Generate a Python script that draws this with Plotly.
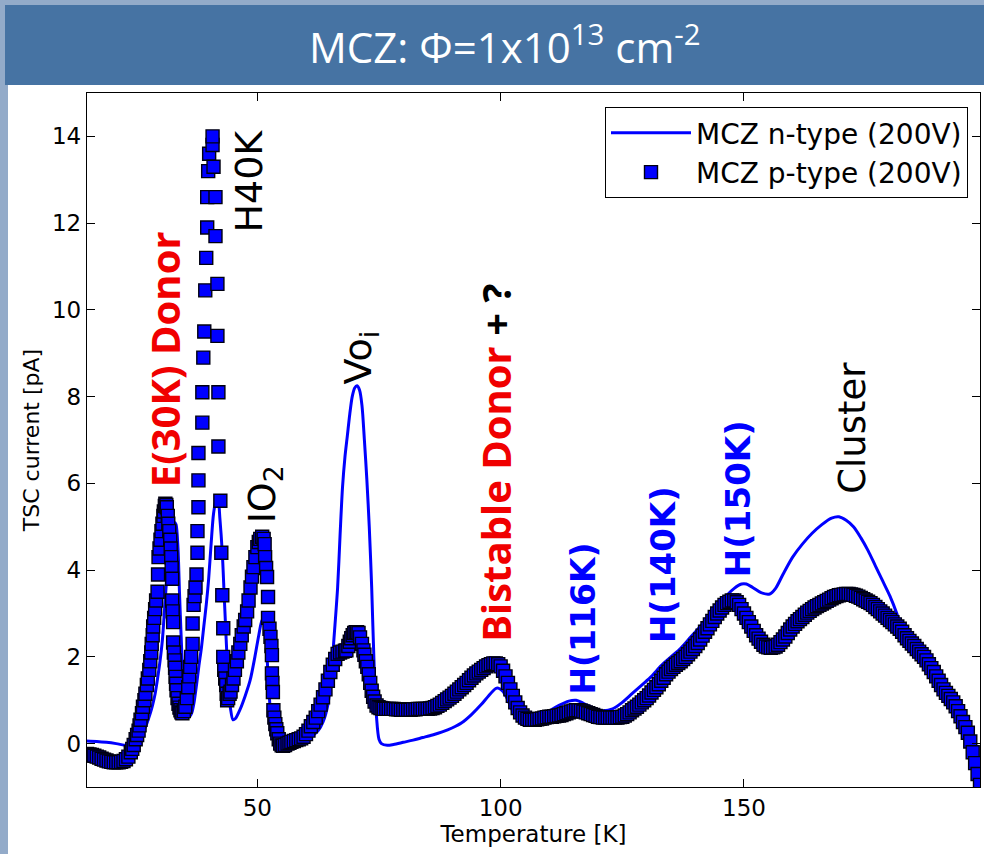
import plotly.graph_objects as go

# ---- TSC spectra, MCZ n-type and p-type (200 V), fluence 1e13 cm^-2 ----
temp_n = [15.0, 17.0, 19.0, 21.0, 23.0, 24.0, 25.0, 26.0, 27.0, 28.0, 28.5, 29.0, 29.5, 30.0,
          30.5, 31.0, 31.5, 32.0, 32.5, 33.0, 33.3, 33.7, 34.0, 34.3, 34.6, 35.0, 35.5, 36.0,
          36.5, 37.0, 37.5, 38.0, 38.5, 39.0, 39.5, 40.0, 40.5, 41.0, 41.5, 41.9, 42.3, 42.8,
          43.2, 43.6, 44.0, 44.5, 45.0, 45.5, 46.5, 47.5, 48.5, 49.5, 50.3, 51.0, 51.6, 52.0,
          52.4, 52.8, 53.3, 54.0, 56.0, 58.8, 60.0, 61.5, 62.5, 63.5, 64.5, 65.2, 65.8, 66.5,
          67.0, 67.5, 68.0, 68.5, 69.0, 69.5, 70.0, 70.5, 71.0, 71.5, 72.0, 72.5, 73.0, 73.5,
          74.0, 74.5, 75.0, 75.5, 76.7, 78.0, 80.0, 82.0, 84.0, 86.0, 88.0, 90.0, 92.0, 94.0,
          96.0, 97.5, 99.0, 99.5, 100.5, 101.5, 102.5, 103.5, 104.5, 106.0, 108.0, 110.0, 112.0,
          114.0, 115.5, 117.0, 119.0, 121.0, 123.0, 125.0, 127.0, 129.0, 131.0, 133.0, 135.0,
          137.0, 139.0, 141.0, 143.0, 145.0, 146.5, 148.0, 149.5, 150.5, 151.8, 153.5, 155.3,
          156.5, 158.0, 160.0, 162.0, 164.0, 166.0, 168.0, 169.5, 171.0, 172.5, 174.0, 175.5,
          177.0, 178.5, 180.0, 181.4, 182.5, 185.0, 187.6, 190.0, 192.9, 195.8, 197.5, 198.5]
tsc_n = [0.06, 0.05, 0.03, 0.0, -0.04, -0.04, 0.05, 0.18, 0.38, 0.7, 0.9, 1.15, 1.5, 1.9,
         2.4, 3.2, 4.0, 4.6, 4.95, 5.1, 5.05, 4.5, 3.5, 2.6, 1.8, 1.1, 0.72, 0.62,
         0.7, 0.95, 1.35, 1.8, 2.2, 2.7, 3.2, 3.8, 4.6, 5.3, 5.6, 5.65, 5.2, 4.4,
         3.4, 2.4, 1.5, 0.8, 0.55, 0.58, 0.8, 1.1, 1.45, 2.0, 2.5, 2.85, 2.9, 2.0,
         1.2, 0.6, 0.25, 0.08, 0.05, 0.08, 0.1, 0.2, 0.3, 0.5, 0.9, 1.6, 2.5, 3.6,
         4.8, 5.9, 6.6, 7.1, 7.6, 8.0, 8.2, 8.25, 8.15, 7.8, 7.0, 6.1, 5.0, 3.6,
         1.8, 0.6, 0.1, 0.0, -0.04, -0.02, 0.03, 0.08, 0.14, 0.2, 0.27, 0.36, 0.48, 0.67,
         0.9, 1.1, 1.27, 1.28, 1.2, 1.0, 0.75, 0.6, 0.54, 0.52, 0.6, 0.75, 0.88,
         0.98, 1.0, 0.93, 0.82, 0.76, 0.8, 0.95, 1.15, 1.35, 1.55, 1.8, 2.0,
         2.2, 2.45, 2.7, 2.95, 3.2, 3.42, 3.58, 3.68, 3.68, 3.6, 3.48, 3.45,
         3.58, 3.9, 4.3, 4.6, 4.85, 5.05, 5.2, 5.23, 5.15, 5.0, 4.75, 4.45,
         4.1, 3.75, 3.4, 3.0, 2.62, 2.25, 1.98, 1.5, 0.98, 0.35, -0.45, -0.97]

temp_p = [15.0, 15.5, 16.0, 16.5, 17.0, 17.5, 18.0, 18.5, 19.0, 19.5,
          20.0, 20.5, 21.0, 21.5, 22.0, 22.5, 23.0, 23.5, 24.0, 24.3,
          24.6, 25.0, 25.3, 25.6, 25.8, 26.0, 26.3, 26.5, 26.8, 27.0,
          27.3, 27.5, 27.8, 28.0, 28.2, 28.3, 28.5, 28.6, 28.8, 29.0,
          29.2, 29.5, 29.6, 29.7, 29.9, 30.1, 30.3, 30.5, 30.7, 30.8,
          31.0, 31.1, 31.3, 31.4, 31.6, 31.7, 31.9, 32.1, 32.2, 32.3,
          32.4, 32.5, 32.5, 32.6, 32.7, 32.7, 32.85, 33.0, 33.1, 33.2,
          33.3, 33.4, 33.6, 33.8, 34.0, 34.2, 34.4, 34.6, 34.9, 35.2,
          35.5, 35.8, 36.0, 36.2, 36.4, 36.7, 36.7, 36.9, 37.1, 37.3,
          37.5, 37.7, 37.7, 37.9, 37.9, 37.9, 38.7, 38.7, 38.9, 39.1,
          39.3, 39.5, 39.7, 39.7, 39.9, 40.1, 40.8, 40.8, 41.0, 41.4,
          41.4, 41.8, 41.8, 42.0, 42.0, 42.4, 42.6, 42.8, 43.0, 43.0,
          43.2, 43.4, 43.6, 43.7, 43.8, 44.0, 44.3, 44.5, 44.8, 45.1,
          45.4, 45.8, 46.1, 46.5, 46.8, 47.2, 47.5, 47.9, 48.2, 48.6,
          48.9, 49.2, 49.6, 50.0, 50.3, 50.6, 51.0, 51.3, 51.5, 51.6,
          51.8, 52.0, 52.2, 52.2, 52.5, 52.7, 52.9, 53.0, 53.0, 53.1,
          53.2, 53.3, 53.5, 53.7, 53.9, 54.1, 54.4, 54.7, 55.0, 55.3,
          55.7, 56.2, 56.6, 57.0, 57.5, 58.0, 58.5, 59.0, 59.5, 60.0,
          60.5, 61.0, 61.5, 62.0, 62.5, 63.0, 63.5, 64.0, 64.5, 65.0,
          65.5, 66.0, 66.5, 67.0, 67.5, 68.0, 68.3, 68.7, 69.0, 69.3,
          69.6, 69.9, 70.2, 70.5, 70.8, 71.1, 71.5, 71.8, 72.0, 72.3,
          72.6, 72.9, 73.2, 73.5, 73.8, 74.1, 74.5, 74.9, 75.3, 75.7,
          76.0, 76.5, 77.0, 77.5, 78.0, 78.5, 79.0, 79.5, 80.0, 80.5,
          81.0, 81.5, 82.0, 82.5, 83.0, 83.5, 84.0, 84.5, 85.0, 85.5,
          86.0, 86.5, 87.0, 87.5, 88.0, 88.5, 89.0, 89.5, 90.0, 90.5,
          91.0, 91.5, 92.0, 92.5, 93.0, 93.5, 94.0, 94.5, 95.0, 95.5,
          96.0, 96.5, 97.0, 97.5, 98.0, 98.5, 99.0, 99.5, 100.0, 100.5,
          101.0, 101.5, 102.0, 102.5, 103.0, 103.5, 104.0, 104.5, 105.0, 105.5,
          106.0, 106.5, 107.0, 107.5, 108.0, 108.5, 109.0, 109.5, 110.0, 110.5,
          111.0, 111.5, 112.0, 112.5, 113.0, 113.5, 114.0, 114.5, 115.0, 115.5,
          116.0, 116.5, 117.0, 117.5, 118.0, 118.5, 119.0, 119.5, 120.0, 120.5,
          121.0, 121.5, 122.0, 122.5, 123.0, 123.5, 124.0, 124.5, 125.0, 125.5,
          126.0, 126.5, 127.0, 127.5, 128.0, 128.5, 129.0, 129.5, 130.0, 130.5,
          131.0, 131.5, 132.0, 132.5, 133.0, 133.5, 134.0, 134.5, 135.0, 135.5,
          136.0, 136.5, 137.0, 137.5, 138.0, 138.5, 139.0, 139.5, 140.0, 140.5,
          141.0, 141.5, 142.0, 142.5, 143.0, 143.5, 144.0, 144.5, 145.0, 145.5,
          146.0, 146.5, 147.0, 147.5, 148.0, 148.5, 149.0, 149.5, 150.0, 150.5,
          151.0, 151.5, 152.0, 152.5, 153.0, 153.5, 154.0, 154.5, 155.0, 155.5,
          156.0, 156.5, 157.0, 157.5, 158.0, 158.5, 159.0, 159.5, 160.0, 160.5,
          161.0, 161.5, 162.0, 162.5, 163.0, 163.5, 164.0, 164.5, 165.0, 165.5,
          166.0, 166.5, 167.0, 167.5, 168.0, 168.5, 169.0, 169.5, 170.0, 170.5,
          171.0, 171.5, 172.0, 172.5, 173.0, 173.5, 174.0, 174.5, 175.0, 175.5,
          176.0, 176.5, 177.0, 177.5, 178.0, 178.5, 179.0, 179.5, 180.0, 180.5,
          181.0, 181.5, 182.0, 182.5, 183.0, 183.5, 184.0, 184.5, 185.0, 185.5,
          186.0, 186.5, 187.0, 187.5, 188.0, 188.5, 189.0, 189.5, 190.0, 190.5,
          191.0, 191.5, 192.0, 192.5, 193.0, 193.5, 194.0, 194.5, 195.0, 195.5,
          196.0, 196.5, 197.0, 197.5, 198.0, 198.5]
tsc_p = [-0.24, -0.25, -0.26, -0.28, -0.30, -0.32, -0.35, -0.37, -0.39, -0.41,
         -0.42, -0.43, -0.43, -0.43, -0.42, -0.40, -0.36, -0.30, -0.20, -0.12,
         -0.03, 0.10, 0.20, 0.30, 0.42, 0.55, 0.70, 0.85, 1.00, 1.15,
         1.35, 1.50, 1.70, 1.90, 2.10, 2.30, 2.50, 2.70, 2.90, 3.10,
         3.30, 3.50, 3.90, 4.30, 4.50, 4.70, 4.90, 5.07, 5.25, 5.35,
         5.48, 5.53, 5.50, 5.45, 5.25, 5.07, 4.90, 4.70, 4.50, 4.30,
         4.05, 3.80, 3.30, 3.05, 2.80, 2.33, 2.10, 1.92, 1.75, 1.54,
         1.38, 1.23, 1.05, 0.92, 0.83, 0.77, 0.72, 0.70, 0.75, 0.85,
         1.05, 1.30, 1.55, 1.77, 2.00, 2.30, 2.77, 3.20, 3.40, 3.60,
         3.90, 4.40, 4.90, 5.45, 6.07, 6.70, 7.40, 8.10, 8.90, 9.50,
         10.45, 11.20, 11.90, 12.60, 13.20, 13.60, 13.80, 14.00, 13.30, 12.60,
         11.70, 10.60, 9.40, 8.10, 6.85, 5.60, 4.40, 3.42, 2.66, 2.00,
         1.70, 1.50, 1.35, 1.15, 1.00, 1.05, 1.15, 1.20, 1.35, 1.50,
         1.70, 1.90, 2.10, 2.30, 2.50, 2.70, 2.85, 3.05, 3.30, 3.60,
         3.85, 4.07, 4.30, 4.53, 4.65, 4.72, 4.77, 4.72, 4.60, 4.30,
         4.05, 3.84, 3.38, 2.90, 2.65, 2.46, 2.25, 2.04, 1.62, 1.40,
         1.19, 0.77, 0.60, 0.45, 0.33, 0.24, 0.10, 0.00, -0.04, -0.05,
         -0.03, 0.00, 0.02, 0.04, 0.06, 0.08, 0.10, 0.12, 0.16, 0.22,
         0.30, 0.40, 0.50, 0.60, 0.75, 0.90, 1.07, 1.25, 1.45, 1.65,
         1.82, 1.95, 2.07, 2.10, 2.12, 2.14, 2.15, 2.25, 2.35, 2.43,
         2.50, 2.55, 2.57, 2.57, 2.55, 2.45, 2.30, 2.15, 2.05, 1.90,
         1.77, 1.60, 1.40, 1.22, 1.08, 0.97, 0.88, 0.84, 0.82, 0.81,
         0.80, 0.80, 0.80, 0.80, 0.80, 0.79, 0.79, 0.78, 0.78, 0.78,
         0.78, 0.78, 0.79, 0.79, 0.80, 0.80, 0.80, 0.80, 0.80, 0.81,
         0.82, 0.84, 0.87, 0.90, 0.94, 0.98, 1.02, 1.06, 1.10, 1.15,
         1.20, 1.25, 1.30, 1.35, 1.40, 1.46, 1.52, 1.57, 1.62, 1.66,
         1.70, 1.74, 1.78, 1.81, 1.83, 1.85, 1.85, 1.83, 1.78, 1.68,
         1.55, 1.40, 1.25, 1.10, 0.95, 0.82, 0.72, 0.65, 0.60, 0.57,
         0.55, 0.55, 0.55, 0.56, 0.57, 0.58, 0.60, 0.61, 0.62, 0.62,
         0.63, 0.64, 0.65, 0.66, 0.68, 0.70, 0.72, 0.74, 0.76, 0.77,
         0.77, 0.76, 0.74, 0.72, 0.70, 0.68, 0.66, 0.64, 0.62, 0.61,
         0.60, 0.60, 0.60, 0.60, 0.60, 0.60, 0.60, 0.61, 0.62, 0.65,
         0.68, 0.72, 0.77, 0.81, 0.85, 0.90, 0.95, 1.00, 1.05, 1.11,
         1.18, 1.24, 1.30, 1.37, 1.45, 1.52, 1.60, 1.66, 1.72, 1.77,
         1.82, 1.86, 1.90, 1.95, 2.00, 2.06, 2.12, 2.18, 2.25, 2.32,
         2.40, 2.49, 2.58, 2.66, 2.75, 2.83, 2.92, 3.00, 3.07, 3.14,
         3.20, 3.24, 3.27, 3.30, 3.30, 3.26, 3.20, 3.10, 3.00, 2.90,
         2.80, 2.70, 2.60, 2.50, 2.42, 2.35, 2.28, 2.24, 2.22, 2.21,
         2.22, 2.24, 2.28, 2.34, 2.40, 2.47, 2.55, 2.63, 2.70, 2.76,
         2.82, 2.87, 2.92, 2.97, 3.02, 3.06, 3.10, 3.14, 3.17, 3.20,
         3.23, 3.26, 3.29, 3.32, 3.35, 3.38, 3.40, 3.42, 3.43, 3.44,
         3.45, 3.45, 3.44, 3.43, 3.41, 3.39, 3.36, 3.33, 3.30, 3.27,
         3.24, 3.20, 3.15, 3.10, 3.05, 3.00, 2.95, 2.90, 2.85, 2.80,
         2.75, 2.70, 2.65, 2.58, 2.50, 2.43, 2.37, 2.31, 2.25, 2.18,
         2.12, 2.06, 2.00, 1.92, 1.83, 1.74, 1.65, 1.55, 1.45, 1.35,
         1.25, 1.17, 1.10, 1.03, 0.95, 0.86, 0.75, 0.63, 0.50, 0.38,
         0.25, 0.05, -0.20, -0.45, -0.70, -0.95]
assert len(temp_p) == len(tsc_p) and len(temp_n) == len(tsc_n)

x_ticks = [50, 100, 150]
y_ticks = [0, 2, 4, 6, 8, 10, 12, 14]

# plot-area geometry in pixels (figure is 984 x 854)
W, H = 984, 854
L, R, T, B = 87, 4, 93, 67
pw, ph = W - L - R, H - T - B


def px(xp):
    return (xp - L) / pw


def py(yp):
    return (H - B - yp) / ph


BLUE = "#0000ff"
RED = "#f00000"
TICKFONT = dict(family="DejaVu Sans", size=23, color="black")

fig = go.Figure()
fig.add_trace(go.Scatter(
    x=temp_n, y=tsc_n, mode="lines", name="MCZ n-type (200V)",
    line=dict(color=BLUE, width=3, shape="spline", smoothing=0.8),
))
fig.add_trace(go.Scatter(
    x=temp_p, y=tsc_p, mode="markers", name="MCZ p-type (200V)",
    marker=dict(symbol="square", size=13, color=BLUE, line=dict(color="#000010", width=1.4)),
))

axis_common = dict(
    showline=True, linecolor="black", linewidth=1.3, mirror="ticks",
    ticks="inside", ticklen=8, tickwidth=1, tickcolor="black",
    showgrid=False, zeroline=False, tickfont=TICKFONT,
)
fig.update_xaxes(range=[15, 198.5], tickvals=x_ticks,
                 title=dict(text="Temperature [K]", font=dict(family="DejaVu Sans", size=23, color="black"), standoff=6),
                 **axis_common)
fig.update_yaxes(range=[-1, 15], tickvals=y_ticks,
                 title=dict(text="TSC current [pA]", font=dict(family="DejaVu Sans", size=22, color="black"), standoff=6),
                 **axis_common)

# slide banner and side strip
shapes = [
    dict(type="rect", xref="paper", yref="paper", x0=px(0), x1=px(W), y0=py(H), y1=py(0),
         fillcolor="#93abc9", line=dict(width=0), layer="below"),
    dict(type="rect", xref="paper", yref="paper", x0=px(8), x1=px(W), y0=py(H), y1=py(85),
         fillcolor="white", line=dict(width=0), layer="below"),
    dict(type="rect", xref="paper", yref="paper", x0=px(5), x1=px(W), y0=py(85), y1=py(5),
         fillcolor="#4673a3", line=dict(width=0), layer="below"),
]

annotations = [
    dict(text="MCZ: \u03a6=1x10<sup>13</sup> cm<sup>-2</sup>", xref="paper", yref="paper",
         x=px(505), y=py(45), showarrow=False, xanchor="center", yanchor="middle",
         font=dict(family="Open Sans", size=42, color="white")),
]

labels = [
    ("<b>E(30K) Donor</b>", 31.1, 8.87, "Open Sans", 40, RED),
    ("H40K", 48.4, 12.97, "DejaVu Sans", 38, "black"),
    ("IO<sub>2</sub>", 51.4, 5.75, "DejaVu Sans", 38, "black"),
    ("Vo<sub>i</sub>", 71.3, 8.9, "DejaVu Sans", 38, "black"),
    ("<b><span style='color:%s'>Bistable Donor</span> + ?</b>" % RED, 98.9, 6.48, "Open Sans", 40, "black"),
    ("<b>H(116K)</b>", 117.1, 2.88, "DejaVu Sans", 33, BLUE),
    ("<b>H(140K)</b>", 133.4, 4.12, "DejaVu Sans", 34, BLUE),
    ("<b>H(150K)</b>", 148.8, 5.64, "DejaVu Sans", 34, BLUE),
    ("Cluster", 172.4, 7.28, "DejaVu Sans", 37, "black"),
]
for text, lx, ly, fam, size, col in labels:
    annotations.append(dict(text=text, x=lx, y=ly, xref="x", yref="y", showarrow=False,
                            textangle=-90, xanchor="center", yanchor="middle",
                            font=dict(family=fam, size=size, color=col)))

fig.update_layout(
    width=W, height=H,
    margin=dict(l=L, r=R, t=T, b=B),
    paper_bgcolor="white", plot_bgcolor="white",
    shapes=shapes, annotations=annotations,
    showlegend=True,
    legend=dict(x=px(968), y=py(107), xanchor="right", yanchor="top",
                bgcolor="white", bordercolor="black", borderwidth=1,
                font=dict(family="DejaVu Sans", size=28, color="black"),
                itemsizing="trace", itemwidth=80, tracegroupgap=0),
)

fig.write_html("out.html")
